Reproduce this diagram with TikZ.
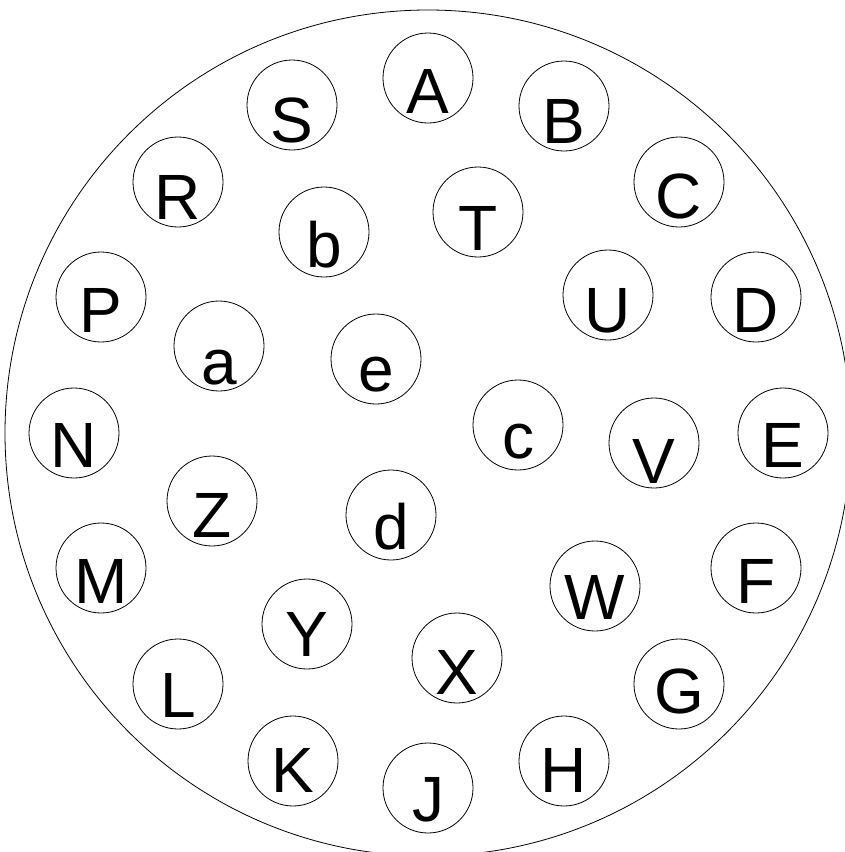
\documentclass[tikz,border=0pt]{standalone}
\usepackage{fontspec}
\setmainfont{Liberation Sans}
\begin{document}
\begin{tikzpicture}[x=1pt,y=-1pt,
  pinc/.style={circle,draw=black,line width=0.8pt,minimum size=90pt,inner sep=0pt},
  lbl/.style={anchor=base,inner sep=0pt,font=\fontsize{64}{64}\selectfont}]
\useasboundingbox (0,0) rectangle (845,852);
\clip (0,0) rectangle (845,852);
\fill[white] (0,0) rectangle (845,852);
\node[circle,draw=black,line width=0.8pt,minimum size=846pt,inner sep=0pt] (shell) at (428,433) {};
% pins: name, x, y, baseline
\foreach \n/\x/\y/\b in {
  A/428/78/113, B/564/106/143, C/679/182/218, D/756/297/332,
  E/783/433/467, F/756/568/603, G/679/684/713, H/564/761/792,
  J/428/788/821, K/293/761/792, L/178/684/717, M/101/568/603,
  N/74/433/467, P/101/297/332, R/178/182/219, S/292/105/142,
  T/478/212/250, U/608/295/332, V/654/443/483, W/595/586/619,
  X/457/658/694, Y/307/624/656, Z/212/501/537,
  a/219/346/384, b/324/232/267, c/518/425/458, d/391/515/549, e/376/359/391}
{
  \node[pinc] (pin-\n) at (\x,\y) {};
  \node[lbl] (txt-\n) at (\x,\b) {\n};
}
\end{tikzpicture}
\end{document}
